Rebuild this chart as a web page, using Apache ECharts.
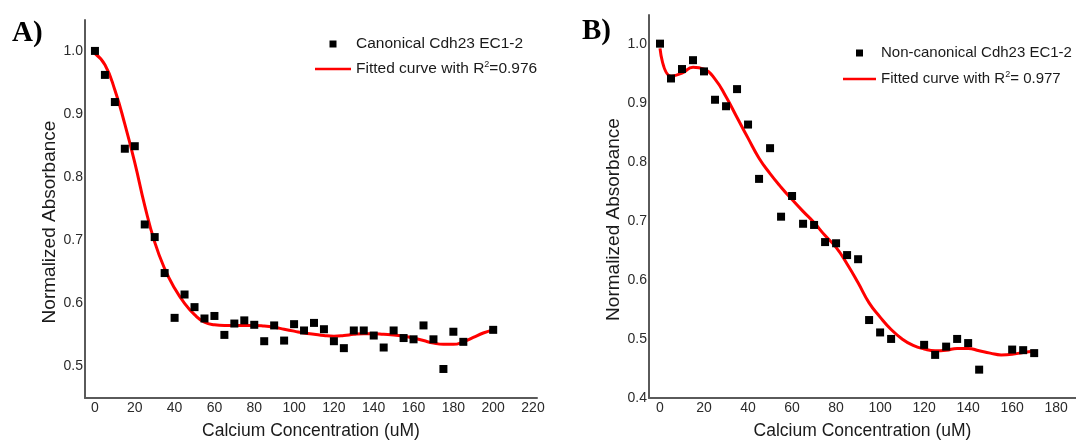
<!DOCTYPE html>
<html>
<head>
<meta charset="utf-8">
<script src="https://cdn.jsdelivr.net/npm/echarts@6/dist/echarts.min.js"></script>
<style>
html,body{margin:0;padding:0;background:#fff;}
#chart{width:1076px;height:445px;}
</style>
</head>
<body>
<div id="chart"></div>
<script>
// ---- Panel A: Canonical Cdh23 EC1-2 ----
const xA = [0,5,10,15,20,25,30,35,40,45,50,55,60,65,70,75,80,85,90,95,100,105,110,115,120,125,130,135,140,145,150,155,160,165,170,175,180,185,200];
const yA = [1.000,0.962,0.919,0.845,0.849,0.725,0.705,0.648,0.577,0.614,0.594,0.576,0.580,0.550,0.568,0.573,0.566,0.540,0.565,0.541,0.567,0.557,0.569,0.559,0.540,0.529,0.557,0.557,0.549,0.530,0.557,0.545,0.543,0.565,0.543,0.496,0.555,0.539,0.558];
const fitXA = [0,5,10,15,20,25,30,35,40,45,50,55,60,65,70,75,80,85,90,95,100,105,110,115,120,125,130,135,140,145,150,155,160,165,170,175,180,185,190,195,200];
const fitYA = [0.996,0.978,0.938,0.884,0.823,0.755,0.697,0.655,0.624,0.600,0.582,0.570,0.566,0.565,0.565,0.565,0.565,0.564,0.562,0.559,0.556,0.553,0.551,0.549,0.548,0.549,0.551,0.552,0.552,0.551,0.550,0.548,0.545,0.541,0.537,0.535,0.535,0.539,0.546,0.553,0.558];
const xTicksA = [0,20,40,60,80,100,120,140,160,180,200,220];
const yTicksA = [0.5,0.6,0.7,0.8,0.9,1.0];
const nameScatterA = 'Canonical Cdh23 EC1-2';
const nameFitA = 'Fitted curve with R2=0.976';

// ---- Panel B: Non-canonical Cdh23 EC1-2 ----
const xB = [0,5,10,15,20,25,30,35,40,45,50,55,60,65,70,75,80,85,90,95,100,105,120,125,130,135,140,145,160,165,170];
const yB = [1.000,0.941,0.957,0.972,0.953,0.905,0.894,0.923,0.863,0.771,0.823,0.707,0.742,0.695,0.693,0.664,0.662,0.642,0.635,0.532,0.511,0.500,0.490,0.473,0.487,0.500,0.493,0.448,0.482,0.481,0.476];
const fitXB = [0,5,10,15,20,25,30,35,40,45,50,55,60,65,70,75,80,85,90,95,100,105,110,115,120,125,130,135,140,145,150,155,160,165,170];
const fitYB = [0.992,0.945,0.950,0.960,0.957,0.940,0.910,0.875,0.840,0.806,0.780,0.757,0.736,0.716,0.697,0.675,0.655,0.627,0.595,0.561,0.537,0.516,0.500,0.489,0.483,0.480,0.481,0.484,0.484,0.480,0.476,0.473,0.474,0.477,0.479];
const xTicksB = [0,20,40,60,80,100,120,140,160,180];
const yTicksB = [0.4,0.5,0.6,0.7,0.8,0.9,1.0];
const nameScatterB = 'Non-canonical Cdh23 EC1-2';
const nameFitB = 'Fitted curve with R2= 0.977';

const zip = (xs, ys) => xs.map((x, i) => [x, ys[i]]);

const FONT = 'Liberation Sans, Arial, sans-serif';
const axisLineStyle = { color: '#5a5a5a', width: 2 };
const tickLabel = { color: '#2a2a2a', fontSize: 14, fontFamily: FONT };
const lineIcon = 'path://M0,0 L40,0 L40,3 L0,3 Z';
const squareIcon = 'path://M0,0 L10,0 L10,10 L0,10 Z';

function xAxisCfg(gridIndex, min, max, ticks) {
  return {
    type: 'value', gridIndex, min, max,
    name: 'Calcium Concentration (uM)', nameLocation: 'middle', nameGap: 24,
    nameTextStyle: { color: '#1a1a1a', fontSize: 17.5, fontFamily: FONT },
    axisLine: { show: true, onZero: false, lineStyle: axisLineStyle },
    axisTick: { show: false },
    splitLine: { show: false },
    axisLabel: { customValues: ticks, margin: 3, ...tickLabel, formatter: v => String(v) }
  };
}
function yAxisCfg(gridIndex, min, max, ticks) {
  return {
    type: 'value', gridIndex, min, max,
    name: 'Normalized Absorbance', nameLocation: 'middle', nameGap: 25, nameRotate: 90,
    nameTextStyle: { color: '#1a1a1a', fontSize: 19, fontFamily: FONT, padding: [0, 26, 0, 0] },
    axisLine: { show: true, onZero: false, lineStyle: axisLineStyle },
    axisTick: { show: false },
    splitLine: { show: false },
    axisLabel: { customValues: ticks, margin: 2, ...tickLabel, formatter: v => v.toFixed(1) }
  };
}
function legendCfg(left, top, itemWidth, itemGap, fontSize, scatterName, fitName) {
  return {
    orient: 'vertical', left, top, itemWidth, itemHeight: 7, itemGap, padding: 0,
    data: [{ name: scatterName, icon: squareIcon }, { name: fitName, icon: lineIcon }],
    formatter: n => n.replace('R2', 'R{sup|2}'),
    textStyle: {
      color: '#1a1a1a', fontSize, fontFamily: FONT, lineHeight: 18,
      rich: { sup: { fontSize: 9, lineHeight: 18, verticalAlign: 'top', color: '#1a1a1a', fontFamily: FONT } }
    }
  };
}

const chart = echarts.init(document.getElementById('chart'), null, { renderer: 'canvas' });
chart.setOption({
  backgroundColor: '#fff',
  animation: false,
  graphic: [
    { type: 'text', left: 12, top: 19, style: { text: 'A)', font: 'bold 29px "Liberation Serif", "Times New Roman", serif', fill: '#000' } },
    { type: 'text', left: 582, top: 17, style: { text: 'B)', font: 'bold 29px "Liberation Serif", "Times New Roman", serif', fill: '#000' } }
  ],
  grid: [
    { left: 85, top: 20, width: 452, height: 380 },
    { left: 649, top: 15, width: 427, height: 388 }
  ],
  xAxis: [ xAxisCfg(0, -5, 222, xTicksA), xAxisCfg(1, -5, 189, xTicksB) ],
  yAxis: [ yAxisCfg(0, 0.45, 1.049, yTicksA), yAxisCfg(1, 0.4, 1.0485, yTicksB) ],
  legend: [
    legendCfg(315, 35, 36, 7, 15.5, nameScatterA, nameFitA),
    legendCfg(843, 44, 33, 8, 15, nameScatterB, nameFitB)
  ],
  series: [
    { name: nameFitA, type: 'line', xAxisIndex: 0, yAxisIndex: 0, data: zip(fitXA, fitYA), smooth: true, showSymbol: false, symbol: 'none', color: '#ff0000', lineStyle: { color: '#ff0000', width: 3 }, z: 2 },
    { name: nameScatterA, type: 'scatter', xAxisIndex: 0, yAxisIndex: 0, data: zip(xA, yA), symbol: 'rect', symbolSize: 8, color: '#000', itemStyle: { color: '#000', opacity: 1 }, z: 3 },
    { name: nameFitB, type: 'line', xAxisIndex: 1, yAxisIndex: 1, data: zip(fitXB, fitYB), smooth: true, showSymbol: false, symbol: 'none', color: '#ff0000', lineStyle: { color: '#ff0000', width: 3 }, z: 2 },
    { name: nameScatterB, type: 'scatter', xAxisIndex: 1, yAxisIndex: 1, data: zip(xB, yB), symbol: 'rect', symbolSize: 8, color: '#000', itemStyle: { color: '#000', opacity: 1 }, z: 3 }
  ]
});
</script>
</body>
</html>
